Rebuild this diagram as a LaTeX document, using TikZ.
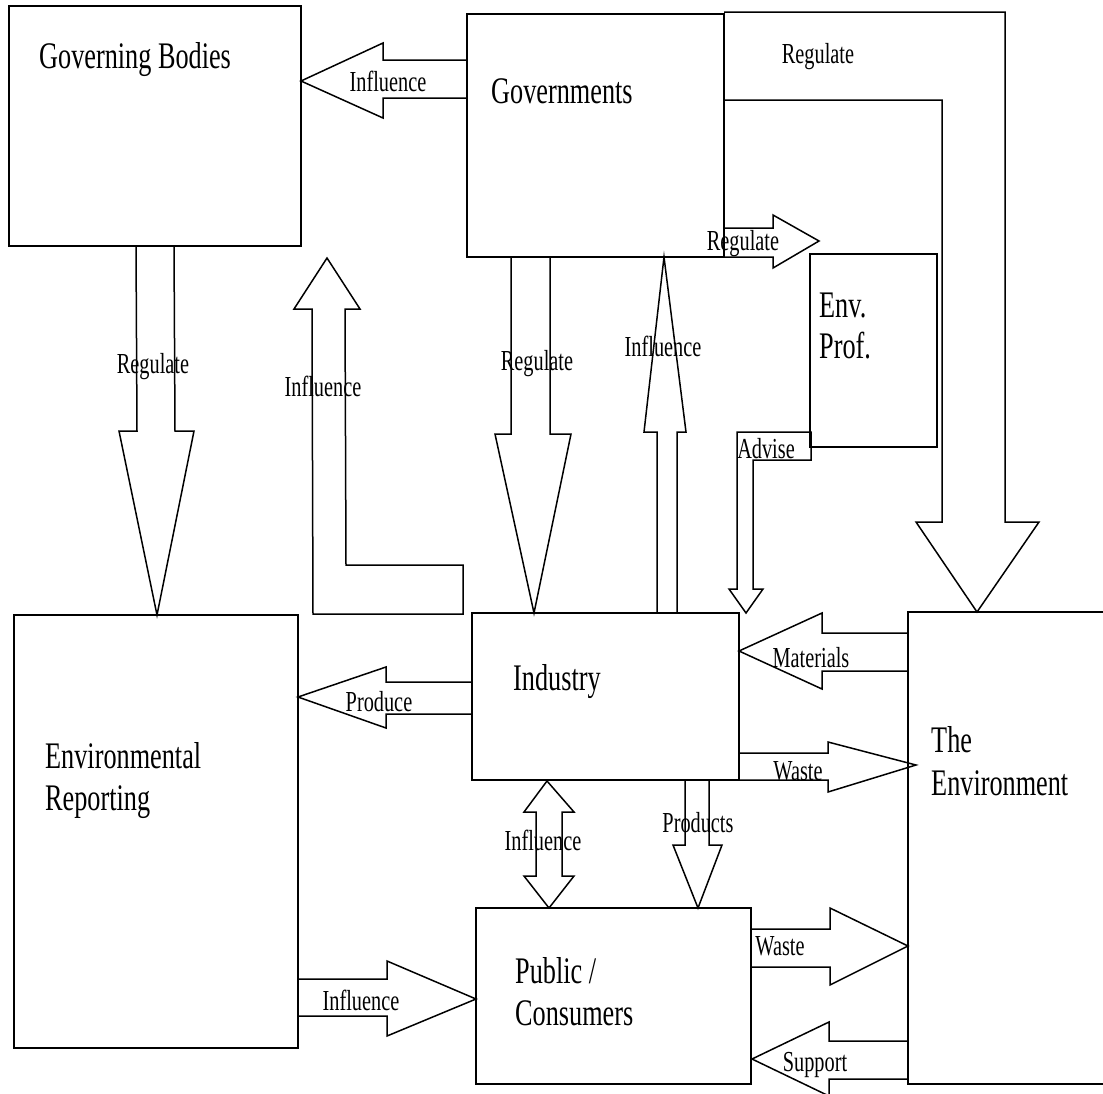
\documentclass[tikz,border=0pt]{standalone}
\usepackage{fontspec}
\setmainfont{Liberation Serif}[FakeStretch=0.7]
\newcommand{\boxfont}{\fontsize{37.5}{42}\selectfont}
\newcommand{\arrfont}{\fontsize{29}{33}\selectfont}
\begin{document}
\begin{tikzpicture}[x=1pt, y=-1pt,
  box/.style={draw, line width=1.6pt, inner sep=0pt, outer sep=0pt, anchor=north west},
  blk/.style={draw, line width=1.5pt, line join=miter},
  ttl/.style={inner sep=0pt, anchor=base west, font=\boxfont},
  lbl/.style={inner sep=0pt, anchor=base, font=\arrfont}]
\useasboundingbox (0,0) rectangle (1103,1093);
\clip (0,0) rectangle (1103,1093);
\fill[white] (0,0) rectangle (1103,1093);

% boxes
\node[box, minimum width=292pt, minimum height=240pt] (gb)   at (9,6) {};
\node[box, minimum width=257pt, minimum height=243pt] (gov)  at (467,14) {};
\node[box, minimum width=127pt, minimum height=193pt] (prof) at (810,254) {};
\node[box, minimum width=284pt, minimum height=433pt] (rep)  at (14,615) {};
\node[box, minimum width=267pt, minimum height=167pt] (ind)  at (472,613) {};
\node[box, minimum width=275pt, minimum height=176pt] (pub)  at (476,908) {};
\node[box, minimum width=212pt, minimum height=472pt] (env)  at (908,612) {};

% box titles
\node[ttl] (gbT)   at (39,68)   {Governing Bodies};
\node[ttl] (govT)  at (491,103) {Governments};
\node[ttl] (profT1) at (819,317) {Env.};
\node[ttl] (profT2) at (819,358) {Prof.};
\node[ttl] (repT1) at (45,768)  {Environmental};
\node[ttl] (repT2) at (45,810)  {Reporting};
\node[ttl] (indT)  at (513,690) {Industry};
\node[ttl] (pubT1) at (515,983) {Public /};
\node[ttl] (pubT2) at (515,1025) {Consumers};
\node[ttl] (envT1) at (931,752) {The};
\node[ttl] (envT2) at (931,795) {Environment};

% block arrows
% Governments -> Governing Bodies
\draw[blk] (467,60) -- (383,60) -- (383,43) -- (301,81) -- (383,118) -- (383,98) -- (467,98);
% Governments -> Environment (L-shaped)
\draw[blk] (724,12) -- (1005,12) -- (1005,522) -- (1039,522) -- (977,612) -- (916,522) -- (942,522) -- (942,100) -- (724,100);
% Governments -> Env. Prof.
\draw[blk] (724,228) -- (773,228) -- (773,215) -- (819,241) -- (773,268) -- (773,257) -- (724,257);
% Governing Bodies -> Environmental Reporting
\draw[blk] (136,246) -- (137,431) -- (119,431) -- (157,615) -- (194,431) -- (175,431) -- (174,246);
% L-shaped Influence up to Governing Bodies
\draw[blk] (327,258) -- (360,309) -- (345,309) -- (346,565) -- (463,565) -- (463,614) -- (313,614) -- (312,309) -- (294,309) -- cycle;
% Governments -> Industry
\draw[blk] (511,257) -- (511,434) -- (495,434) -- (534,613) -- (571,434) -- (550,434) -- (550,257);
% Industry -> Governments
\draw[blk] (657,613) -- (657,432) -- (644,432) -- (664,257) -- (686,432) -- (677,432) -- (677,613);
% Env. Prof. -> Industry (Advise)
\draw[blk] (811,432) -- (737,432) -- (737,589) -- (729,589) -- (746,613) -- (763,589) -- (753,589) -- (753,460) -- (811,460) -- cycle;
% Industry -> Environmental Reporting
\draw[blk] (472,682) -- (386,682) -- (386,667) -- (298,697) -- (386,728) -- (386,714) -- (472,714);
% Environment -> Industry
\draw[blk] (908,633) -- (822,633) -- (822,613) -- (739,651) -- (822,689) -- (822,671) -- (908,671);
% Industry -> Environment
\draw[blk] (739,753) -- (828,753) -- (828,742) -- (916,765) -- (828,792) -- (828,780) -- (739,780);
% Industry <-> Public
\draw[blk] (547,781) -- (574,812) -- (562,812) -- (562,876) -- (574,876) -- (549,908) -- (524,876) -- (536,876) -- (536,812) -- (524,812) -- cycle;
% Industry -> Public
\draw[blk] (685,780) -- (685,845) -- (673,845) -- (698,908) -- (722,845) -- (709,845) -- (709,780);
% Public -> Environment
\draw[blk] (751,929) -- (830,929) -- (830,908) -- (908,946) -- (830,985) -- (830,967) -- (751,967);
% Environment -> Public
\draw[blk] (908,1041) -- (829,1041) -- (829,1022) -- (752,1059) -- (829,1096) -- (829,1079) -- (908,1079);
% Environmental Reporting -> Public
\draw[blk] (299,979) -- (387,979) -- (387,961) -- (476,999) -- (387,1036) -- (387,1016) -- (299,1016);

% arrow labels
\node[lbl] (l1)  at (388,91)   {Influence};
\node[lbl] (l2)  at (818,63)   {Regulate};
\node[lbl] (l3)  at (743,250)  {Regulate};
\node[lbl] (l4)  at (153,373)  {Regulate};
\node[lbl] (l5)  at (323,396)  {Influence};
\node[lbl] (l6)  at (537,370)  {Regulate};
\node[lbl] (l7)  at (663,356)  {Influence};
\node[lbl] (l8)  at (766,458)  {Advise};
\node[lbl] (l9)  at (379,711)  {Produce};
\node[lbl] (l10) at (811,667)  {Materials};
\node[lbl] (l11) at (798,780)  {Waste};
\node[lbl] (l12) at (543,850)  {Influence};
\node[lbl] (l13) at (698,832)  {Products};
\node[lbl] (l14) at (780,955)  {Waste};
\node[lbl] (l15) at (815,1071) {Support};
\node[lbl] (l16) at (361,1010) {Influence};
\end{tikzpicture}
\end{document}
